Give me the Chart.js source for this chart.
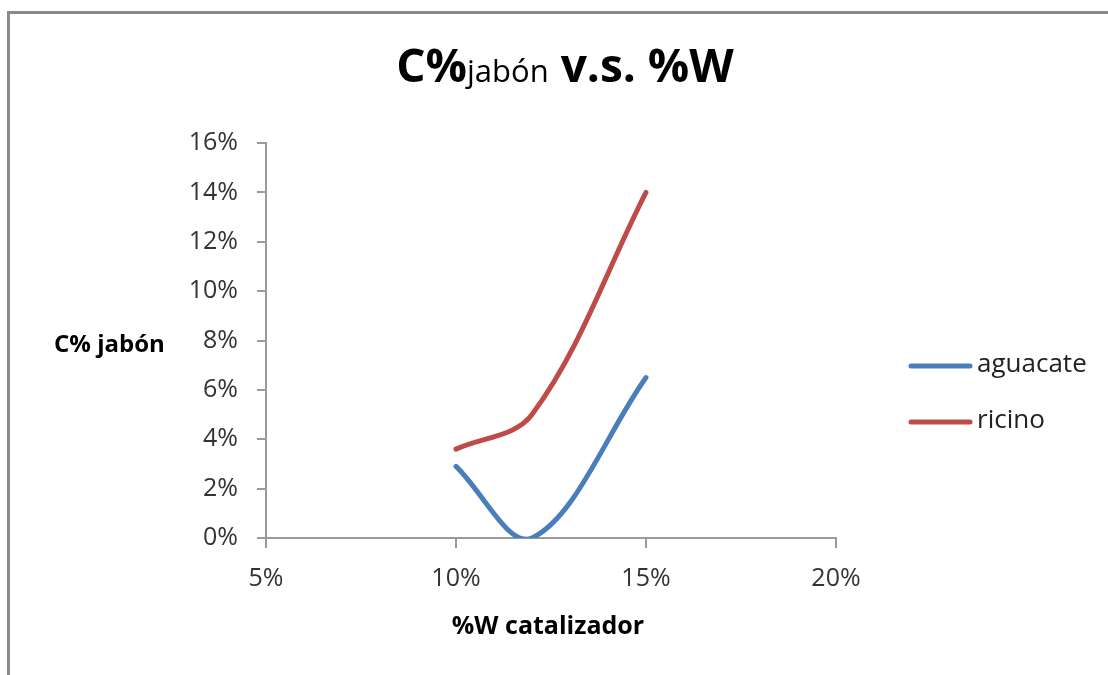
<!DOCTYPE html>
<html>
<head>
<meta charset="utf-8">
<script src="https://cdn.jsdelivr.net/npm/chart.js@4"></script>
<style>
  html, body { margin: 0; padding: 0; background: #ffffff; overflow: hidden; }
  #wrap { position: relative; width: 1108px; height: 675px; }
  #frame { position: absolute; left: 7px; top: 11px; width: 1200px; height: 800px;
           border-left: 3px solid #8a8a8a; border-top: 3px solid #8a8a8a; }
  canvas { position: absolute; left: 0; top: 0; }
</style>
</head>
<body>
<div id="wrap">
  <div id="frame"></div>
  <canvas id="chart" width="1108" height="675"></canvas>
</div>
<script>
// Catalyst load (%W) and soap content (C% jabón), as fractions
const catalizador = [0.10, 0.12, 0.15];
const aguacate = [0.029, 0.000, 0.065];
const ricino = [0.036, 0.050, 0.140];
const seriesNames = ['aguacate', 'ricino'];
const seriesColors = ['#4A7EBB', '#BE4B48'];
const yTicks = [0, 0.02, 0.04, 0.06, 0.08, 0.10, 0.12, 0.14, 0.16];
const xTicks = [0.05, 0.10, 0.15, 0.20];

const FONT = '"Open Sans", "Noto Sans", sans-serif';
const pct = v => Math.round(v * 100) + '%';
const toPoints = ys => catalizador.map((x, i) => ({ x: x, y: ys[i] }));

// Title, horizontal y-axis title, x-axis title and legend
const decorations = {
  id: 'decorations',
  afterDraw(chart) {
    const ctx = chart.ctx;
    const area = chart.chartArea;
    ctx.save();
    ctx.fillStyle = '#000000';
    ctx.textBaseline = 'alphabetic';

    // Title with a smaller, regular-weight subscript word
    const parts = [
      { t: 'C%', f: 'bold 46px ' + FONT },
      { t: 'jabón', f: '31px ' + FONT },
      { t: ' v.s. %W', f: 'bold 46px ' + FONT }
    ];
    let total = 0;
    parts.forEach(p => { ctx.font = p.f; p.w = ctx.measureText(p.t).width; total += p.w; });
    let x = 565 - total / 2;
    ctx.textAlign = 'left';
    parts.forEach(p => { ctx.font = p.f; ctx.fillText(p.t, x, 82); x += p.w; });

    // Axis titles
    ctx.font = 'bold 24px ' + FONT;
    ctx.textAlign = 'left';
    ctx.fillText('C% jabón', 54, 352);
    ctx.font = 'bold 25px ' + FONT;
    ctx.textAlign = 'center';
    ctx.fillText('%W catalizador', 548, 634);

    // Legend
    ctx.font = '26px ' + FONT;
    ctx.textAlign = 'left';
    ctx.textBaseline = 'middle';
    chart.data.datasets.forEach((ds, i) => {
      const y = 366 + i * 56;
      ctx.strokeStyle = ds.borderColor;
      ctx.lineWidth = 5;
      ctx.lineCap = 'round';
      ctx.beginPath();
      ctx.moveTo(911, y);
      ctx.lineTo(970, y);
      ctx.stroke();
      ctx.fillStyle = '#222222';
      ctx.fillText(ds.label, 977, y - 1);
    });
    ctx.restore();
  }
};

new Chart(document.getElementById('chart'), {
  type: 'scatter',
  data: {
    datasets: [
      { label: seriesNames[0], data: toPoints(aguacate) },
      { label: seriesNames[1], data: toPoints(ricino) }
    ].map((d, i) => Object.assign(d, {
      showLine: true,
      borderColor: seriesColors[i],
      backgroundColor: seriesColors[i],
      borderWidth: 5,
      borderCapStyle: 'round',
      borderJoinStyle: 'round',
      tension: 0.35,
      capBezierPoints: false,
      pointRadius: 0,
      pointHoverRadius: 0
    }))
  },
  options: {
    responsive: false,
    animation: false,
    events: [],
    layout: { padding: { left: 0, right: 272, top: 143, bottom: 77 } },
    plugins: {
      legend: { display: false },
      title: { display: false },
      tooltip: { enabled: false }
    },
    scales: {
      x: {
        type: 'linear',
        min: 0.05,
        max: 0.20,
        afterBuildTicks: s => { s.ticks = xTicks.map(v => ({ value: v })); },
        afterFit: s => { s.height = 60; },
        grid: { drawOnChartArea: false, tickLength: 10, color: '#9a9a9a', lineWidth: 2 },
        border: { color: '#9a9a9a', width: 2 },
        ticks: { callback: pct, color: '#333333', padding: 16, maxRotation: 0,
                 font: { family: FONT, size: 25 } }
      },
      y: {
        type: 'linear',
        min: 0,
        max: 0.16,
        afterBuildTicks: s => { s.ticks = yTicks.map(v => ({ value: v })); },
        afterFit: s => { s.width = 266; },
        grid: { drawOnChartArea: false, tickLength: 9, color: '#9a9a9a', lineWidth: 2 },
        border: { color: '#9a9a9a', width: 2 },
        ticks: { callback: pct, color: '#333333', padding: 19,
                 font: { family: FONT, size: 25 } }
      }
    }
  },
  plugins: [decorations]
});
</script>
</body>
</html>
